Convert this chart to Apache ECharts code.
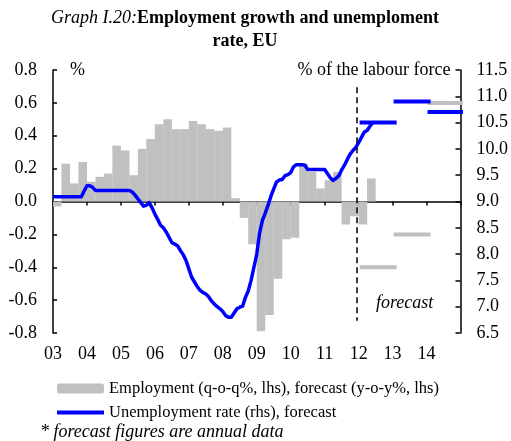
<!DOCTYPE html>
<html>
<head>
<meta charset="utf-8">
<script src="https://cdn.jsdelivr.net/npm/echarts@6/dist/echarts.min.js"></script>
<style>
  html, body { margin: 0; padding: 0; background: #fff; }
  #chart { width: 511px; height: 441px; }
</style>
</head>
<body>
<div id="chart"></div>
<script>
// quarterly employment growth, q-o-q %, 2003Q1 .. 2012Q2
const EMP_START = 2003;
const EMP_QOQ = [
  -0.03, 0.23, 0.11, 0.24,   // 2003
  0.12, 0.15, 0.17, 0.34,    // 2004
  0.31, 0.16, 0.32, 0.38,    // 2005
  0.47, 0.50, 0.44, 0.44,    // 2006
  0.49, 0.47, 0.44, 0.43,    // 2007
  0.45, 0.02, -0.10, -0.26,  // 2008
  -0.79, -0.69, -0.47, -0.23, // 2009
  -0.22, 0.23, 0.18, 0.08,   // 2010
  0.13, 0.18, -0.14, -0.09,  // 2011
  -0.14, 0.14                // 2012
];

// monthly unemployment rate, % of labour force, Jan 2003 .. Jun 2012
const UNEMP_MONTHLY = [
  9.09, 9.09, 9.09, 9.09, 9.09, 9.09, 9.09, 9.09, 9.09, 9.09, 9.09, 9.20,
  9.30, 9.30, 9.27, 9.21, 9.21, 9.21, 9.21, 9.21, 9.21, 9.21, 9.21, 9.21,
  9.21, 9.21, 9.21, 9.21, 9.18, 9.12, 9.05, 8.98, 8.91, 8.93, 8.98, 8.88,
  8.76, 8.66, 8.55, 8.50, 8.42, 8.32, 8.22, 8.19, 8.16, 8.07, 7.99, 7.88,
  7.72, 7.56, 7.47, 7.38, 7.31, 7.27, 7.24, 7.19, 7.11, 7.05, 7.00, 6.96,
  6.91, 6.83, 6.80, 6.80, 6.88, 6.96, 6.99, 7.01, 7.18, 7.30, 7.50, 7.75,
  8.00, 8.40, 8.64, 8.78, 8.93, 9.10, 9.24, 9.37, 9.41, 9.42, 9.49, 9.51,
  9.55, 9.66, 9.70, 9.70, 9.70, 9.69, 9.61, 9.61, 9.61, 9.61, 9.61, 9.61,
  9.61, 9.53, 9.45, 9.40, 9.44, 9.49, 9.60, 9.69, 9.80, 9.90, 9.97, 10.03,
  10.12, 10.22, 10.32, 10.35, 10.43, 10.50
];

// annual forecasts
const FC_YEARS = [2012, 2013, 2014];
const FC_EMP_YOY = [-0.4, -0.2, 0.6];
const FC_UNEMP = [10.5, 10.9, 10.7];

const FORECAST_FROM = 2011.95;

const SERIF = '"Liberation Serif", "DejaVu Serif", serif';
const BLUE = '#0000ff';
const GREY = '#c0c0c0';

const EMP_NAME = 'Employment (q-o-q%, lhs), forecast (y-o-y%, lhs)';
const UNEMP_NAME = 'Unemployment rate (rhs), forecast';

function segments(years, vals) {
  const out = [];
  years.forEach((y, i) => {
    out.push([y + 0.03, vals[i]], [y + 1.12, vals[i]], '-');
  });
  return out;
}

const chart = echarts.init(document.getElementById('chart'), null, { renderer: 'canvas' });

const option = {
  backgroundColor: '#fff',
  animation: false,
  textStyle: { fontFamily: SERIF, color: '#000' },
  title: {
    left: 240,
    top: 2,
    textAlign: 'center',
    text: '{i|Graph I.20:}{b|Employment growth and unemploment}\n{b|rate, EU}',
    textStyle: {
      rich: {
        i: { fontFamily: SERIF, fontStyle: 'italic', fontWeight: 'normal', fontSize: 18, color: '#000', lineHeight: 23 },
        b: { fontFamily: SERIF, fontWeight: 'bold', fontSize: 18, color: '#000', lineHeight: 23 }
      }
    }
  },
  legend: {
    orient: 'vertical',
    left: 55,
    top: 380,
    padding: 0,
    itemWidth: 47,
    itemHeight: 10,
    itemGap: 7,
    textStyle: { fontFamily: SERIF, fontSize: 16.5, color: '#000' },
    data: [
      { name: EMP_NAME, icon: 'roundRect' },
      { name: UNEMP_NAME, itemStyle: { opacity: 0 }, lineStyle: { width: 4 } }
    ]
  },
  grid: { left: 53, right: 49, top: 70, bottom: 108, containLabel: false },
  xAxis: [
    {
      type: 'value',
      min: 2003, max: 2015, interval: 1,
      position: 'bottom',
      axisLine: { onZero: true, lineStyle: { color: '#000', width: 1.5 } },
      axisTick: { show: true, length: 4, lineStyle: { color: '#000', width: 1.5 } },
      axisLabel: { show: false },
      splitLine: { show: false }
    },
    {
      type: 'value',
      min: 2003, max: 2015, interval: 1,
      position: 'bottom',
      axisLine: { show: false, onZero: false },
      axisTick: { show: false },
      splitLine: { show: false },
      axisLabel: {
        margin: 12,
        fontFamily: SERIF, fontSize: 18, color: '#000',
        formatter: v => (v < 2015 ? String(v).slice(2) : '')
      }
    }
  ],
  yAxis: [
    {
      type: 'value',
      min: -0.8, max: 0.8, interval: 0.2,
      name: '%',
      nameLocation: 'end',
      nameGap: 0,
      nameTextStyle: { fontFamily: SERIF, fontSize: 18, color: '#000', align: 'left', verticalAlign: 'middle', padding: [0, 0, 0, 17] },
      axisLine: { show: true, lineStyle: { color: '#000', width: 1.5 } },
      axisTick: { show: true, inside: true, length: 4, lineStyle: { color: '#000', width: 1.5 } },
      axisLabel: { margin: 16, fontFamily: SERIF, fontSize: 18, color: '#000', formatter: v => v.toFixed(1) },
      splitLine: { show: false }
    },
    {
      type: 'value',
      min: 6.5, max: 11.5, interval: 0.5,
      position: 'right',
      name: '% of the labour force',
      nameLocation: 'end',
      nameGap: 0,
      nameTextStyle: { fontFamily: SERIF, fontSize: 18, color: '#000', align: 'right', verticalAlign: 'middle', padding: [0, 10, 0, 0] },
      axisLine: { show: true, lineStyle: { color: '#000', width: 1.5 } },
      axisTick: { show: true, inside: true, length: 5, lineStyle: { color: '#000', width: 1.5 } },
      axisLabel: { margin: 16, fontFamily: SERIF, fontSize: 18, color: '#000', formatter: v => v.toFixed(1) },
      splitLine: { show: false }
    }
  ],
  series: [
    {
      name: EMP_NAME,
      type: 'bar',
      xAxisIndex: 0,
      yAxisIndex: 0,
      barWidth: 8.6,
      itemStyle: { color: GREY },
      data: EMP_QOQ.map((v, i) => [EMP_START + i / 4 + 0.125, v]),
      markLine: {
        silent: true,
        symbol: 'none',
        label: { show: false },
        lineStyle: { color: '#000', width: 1.5, type: [6, 4] },
        data: [[{ coord: [FORECAST_FROM, 0.695] }, { coord: [FORECAST_FROM, -0.726] }]]
      }
    },
    {
      name: EMP_NAME,
      type: 'line',
      xAxisIndex: 0,
      yAxisIndex: 0,
      symbol: 'none',
      clip: false,
      lineStyle: { color: GREY, width: 4 },
      itemStyle: { color: GREY },
      data: segments(FC_YEARS, FC_EMP_YOY)
    },
    {
      name: UNEMP_NAME,
      type: 'line',
      xAxisIndex: 0,
      yAxisIndex: 1,
      symbol: 'none',
      lineStyle: { color: BLUE, width: 3.5, join: 'round' },
      itemStyle: { color: BLUE },
      data: UNEMP_MONTHLY.map((v, i) => [EMP_START + i / 12, v])
    },
    {
      name: UNEMP_NAME,
      type: 'line',
      xAxisIndex: 0,
      yAxisIndex: 1,
      symbol: 'none',
      clip: false,
      lineStyle: { color: BLUE, width: 4 },
      itemStyle: { color: BLUE },
      data: segments(FC_YEARS, FC_UNEMP)
    }
  ],
  graphic: [
    {
      type: 'text',
      left: 376,
      top: 294,
      style: { text: 'forecast', fontFamily: SERIF, fontStyle: 'italic', fontSize: 18, fill: '#000' }
    },
    {
      type: 'text',
      left: 40,
      top: 423,
      style: { text: '* forecast figures are annual data', fontFamily: SERIF, fontStyle: 'italic', fontSize: 18, fill: '#000' }
    }
  ]
};

chart.setOption(option);
</script>
</body>
</html>
